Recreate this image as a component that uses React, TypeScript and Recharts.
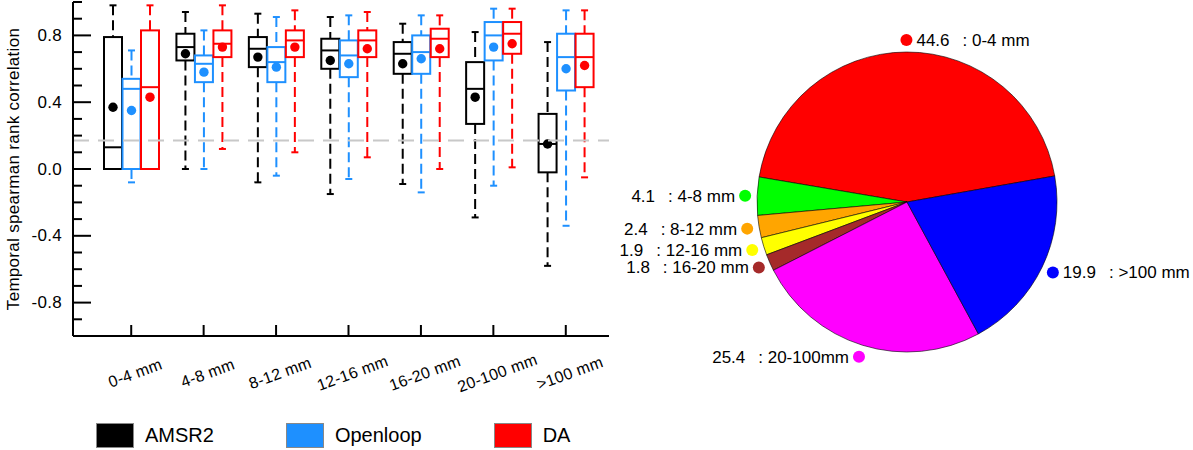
import { Bar, Cell, ComposedChart, Pie, PieChart, ReferenceLine, XAxis, YAxis } from 'recharts';

const FONT = '"Liberation Sans", Arial, Helvetica, sans-serif';
const RADIAN = Math.PI / 180;

// ---- box plot data (temporal spearman rank correlation per rain class) ----
const CATEGORIES = ['0-4 mm', '4-8 mm', '8-12 mm', '12-16 mm', '16-20 mm', '20-100 mm', '>100 mm'];

const AMSR2_MIN = [0.0, 0.0, -0.08, -0.15, -0.09, -0.29, -0.58];
const AMSR2_Q1 = [0.0, 0.65, 0.61, 0.6, 0.57, 0.27, -0.02];
const AMSR2_MEDIAN = [0.13, 0.73, 0.72, 0.71, 0.69, 0.48, 0.15];
const AMSR2_Q3 = [0.79, 0.81, 0.79, 0.78, 0.76, 0.64, 0.33];
const AMSR2_MAX = [0.98, 0.94, 0.93, 0.91, 0.87, 0.82, 0.76];
const AMSR2_MEAN = [0.37, 0.69, 0.67, 0.65, 0.63, 0.43, 0.15];

const OPENLOOP_MIN = [-0.08, 0.0, -0.04, -0.06, -0.14, -0.1, -0.34];
const OPENLOOP_Q1 = [0.0, 0.52, 0.52, 0.55, 0.57, 0.65, 0.47];
const OPENLOOP_MEDIAN = [0.48, 0.63, 0.64, 0.68, 0.7, 0.8, 0.67];
const OPENLOOP_Q3 = [0.54, 0.68, 0.73, 0.77, 0.8, 0.88, 0.81];
const OPENLOOP_MAX = [0.71, 0.83, 0.91, 0.92, 0.92, 0.96, 0.95];
const OPENLOOP_MEAN = [0.35, 0.58, 0.61, 0.63, 0.66, 0.73, 0.6];

const DA_MIN = [0.0, 0.12, 0.1, 0.07, 0.0, 0.01, -0.05];
const DA_Q1 = [0.0, 0.67, 0.67, 0.67, 0.67, 0.69, 0.49];
const DA_MEDIAN = [0.49, 0.75, 0.77, 0.77, 0.78, 0.81, 0.67];
const DA_Q3 = [0.83, 0.83, 0.83, 0.83, 0.84, 0.88, 0.81];
const DA_MAX = [0.98, 0.98, 0.95, 0.94, 0.92, 0.96, 0.95];
const DA_MEAN = [0.43, 0.73, 0.73, 0.72, 0.72, 0.75, 0.62];

const REFERENCE_R = 0.17;

const Y_TICKS = [-1, -0.9, -0.8, -0.7, -0.6, -0.5, -0.4, -0.3, -0.2, -0.1, 0, 0.1, 0.2, 0.3, 0.4, 0.5, 0.6, 0.7, 0.8, 0.9, 1];
const Y_LABELLED = [-0.8, -0.4, 0, 0.4, 0.8];

// ---- pie data (share of samples per rain class, %) ----
const PIE_NAMES = ['0-4 mm', '4-8 mm', '8-12 mm', '12-16 mm', '16-20 mm', '20-100mm', '>100 mm'];
const PIE_SHARES = [44.6, 4.1, 2.4, 1.9, 1.8, 25.4, 19.9];
const PIE_COLORS = ['#ff0000', '#00ff00', '#ffa500', '#ffff00', '#a52a2a', '#ff00ff', '#0000ff'];

const SERIES = [
  { key: 'amsr2', name: 'AMSR2', color: '#000000', min: AMSR2_MIN, q1: AMSR2_Q1, median: AMSR2_MEDIAN, q3: AMSR2_Q3, max: AMSR2_MAX, mean: AMSR2_MEAN },
  { key: 'openloop', name: 'Openloop', color: '#1e90ff', min: OPENLOOP_MIN, q1: OPENLOOP_Q1, median: OPENLOOP_MEDIAN, q3: OPENLOOP_Q3, max: OPENLOOP_MAX, mean: OPENLOOP_MEAN },
  { key: 'da', name: 'DA', color: '#ff0000', min: DA_MIN, q1: DA_Q1, median: DA_MEDIAN, q3: DA_Q3, max: DA_MAX, mean: DA_MEAN },
];

type Stats = { min: number; q1: number; median: number; q3: number; max: number; mean: number };

const ROWS = CATEGORIES.map((cat, i) => {
  const row: Record<string, any> = { cat };
  SERIES.forEach((s) => {
    row[s.key] = { min: s.min[i], q1: s.q1[i], median: s.median[i], q3: s.q3[i], max: s.max[i], mean: s.mean[i] };
    // range bar spans the whiskers; the shape fills in box, median and mean
    row[`${s.key}Range`] = [s.min[i], s.max[i]];
  });
  return row;
});

const PIE_DATA = PIE_NAMES.map((name, i) => ({ name, value: PIE_SHARES[i] }));

function BoxShape(props: any) {
  const { x, y, width, height, payload, seriesKey, color } = props;
  const st: Stats = payload[seriesKey];
  // the bar covers [min, max]; the y scale is linear, so map the rest along it
  const pix = (v: number) => y + (height * (st.max - v)) / (st.max - st.min);
  const cx = x + width / 2;
  const cap = 3.5;
  return (
    <g>
      <line x1={cx} x2={cx} y1={pix(st.max)} y2={pix(st.q3)} stroke={color} strokeWidth={2} strokeDasharray="10 5" />
      <line x1={cx} x2={cx} y1={pix(st.q1)} y2={pix(st.min)} stroke={color} strokeWidth={2} strokeDasharray="10 5" />
      <line x1={cx - cap} x2={cx + cap} y1={pix(st.max)} y2={pix(st.max)} stroke={color} strokeWidth={2} />
      <line x1={cx - cap} x2={cx + cap} y1={pix(st.min)} y2={pix(st.min)} stroke={color} strokeWidth={2} />
      <rect x={x} y={pix(st.q3)} width={width} height={pix(st.q1) - pix(st.q3)} fill="none" stroke={color} strokeWidth={2} />
      <line x1={x} x2={x + width} y1={pix(st.median)} y2={pix(st.median)} stroke={color} strokeWidth={2} />
      <circle cx={cx} cy={pix(st.mean)} r={4.7} fill={color} />
    </g>
  );
}

function YTick(props: any) {
  const { x, y, payload } = props;
  const v = payload.value as number;
  const labelled = Y_LABELLED.some((m) => Math.abs(m - v) < 1e-6);
  return (
    <g>
      <line x1={x} x2={x + (labelled ? 18 : 9)} y1={y} y2={y} stroke="#000" strokeWidth={2} />
      {labelled && (
        <text x={x - 11} y={y} textAnchor="end" dominantBaseline="central" fontSize={17} letterSpacing={0.3} fontFamily={FONT} fill="#000">
          {v.toFixed(1)}
        </text>
      )}
    </g>
  );
}

function XTick(props: any) {
  const { x, y, payload } = props;
  const lx = x + 4;
  const ly = y + 37;
  return (
    <g>
      <line x1={x} x2={x} y1={y} y2={y - 11} stroke="#000" strokeWidth={2} />
      <text x={lx} y={ly} textAnchor="middle" dominantBaseline="central" transform={`rotate(-20, ${lx}, ${ly})`} fontSize={16} letterSpacing={0.3} fontFamily={FONT} fill="#000">
        {payload.value}
      </text>
    </g>
  );
}

function PieLabel(props: any) {
  const { cx, cy, midAngle, outerRadius, index } = props;
  const a = -midAngle * RADIAN;
  const r = outerRadius + 12;
  const px = cx + r * Math.cos(a);
  const py = cy + r * Math.sin(a);
  const right = Math.cos(a) > -0.1;
  return (
    <g>
      <circle cx={px} cy={py} r={6} fill={PIE_COLORS[index]} />
      <text
        x={right ? px + 10 : px - 10}
        y={py}
        textAnchor={right ? 'start' : 'end'}
        dominantBaseline="central"
        fontSize={17}
        fontFamily={FONT}
        fill="#000"
      >
        <tspan>{PIE_SHARES[index].toFixed(1)}</tspan>
        <tspan dx={13}>{`: ${PIE_NAMES[index]}`}</tspan>
      </text>
    </g>
  );
}

function Legend() {
  return (
    <div style={{ position: 'absolute', left: 96, top: 423, display: 'flex', gap: 72, fontFamily: FONT, fontSize: 20 }}>
      {SERIES.map((s) => (
        <div key={s.key} style={{ display: 'flex', alignItems: 'center' }}>
          <div style={{ width: 36, height: 23, background: s.color, border: '1px solid #888', marginRight: 11 }} />
          <span>{s.name}</span>
        </div>
      ))}
    </div>
  );
}

export default function App() {
  return (
    <div style={{ position: 'absolute', left: 0, top: 0, width: 1193, height: 450, background: '#fff', fontFamily: FONT }}>
      <div style={{ position: 'absolute', left: 0, top: 0 }}>
        <ComposedChart width={640} height={450} data={ROWS} margin={{ top: 2, right: 31, bottom: 0, left: 0 }} barSize={18} barGap={0.5}>
          <XAxis
            dataKey="cat"
            type="category"
            height={114}
            padding={{ left: 22, right: 7 }}
            interval={0}
            tickLine={false}
            tickSize={0}
            tickMargin={0}
            axisLine={{ stroke: '#000', strokeWidth: 2 }}
            tick={(p: any) => <XTick {...p} />}
          />
          <YAxis
            type="number"
            domain={[-1, 1]}
            ticks={Y_TICKS}
            interval={0}
            width={73}
            tickLine={false}
            tickSize={0}
            tickMargin={0}
            axisLine={{ stroke: '#000', strokeWidth: 2 }}
            tick={(p: any) => <YTick {...p} />}
            label={{
              value: 'Temporal spearman rank correlation',
              angle: -90,
              position: 'insideLeft',
              offset: 13,
              fontSize: 17,
              fill: '#000',
              style: { textAnchor: 'middle', fontFamily: FONT, letterSpacing: 0.3 },
            }}
          />
          <ReferenceLine y={REFERENCE_R} stroke="#c8c8c8" strokeWidth={2} strokeDasharray="16 9" />
          {SERIES.map((s) => (
            <Bar
              key={s.key}
              dataKey={`${s.key}Range`}
              isAnimationActive={false}
              legendType="none"
              shape={(p: any) => <BoxShape {...p} seriesKey={s.key} color={s.color} />}
            />
          ))}
        </ComposedChart>
      </div>
      <Legend />
      <div style={{ position: 'absolute', left: 590, top: 0 }}>
        <PieChart width={603} height={450} margin={{ top: 0, right: 0, bottom: 0, left: 0 }}>
          <Pie
            data={PIE_DATA}
            dataKey="value"
            nameKey="name"
            cx={317}
            cy={202}
            outerRadius={150}
            startAngle={10}
            endAngle={370}
            stroke="#000"
            strokeWidth={0.6}
            label={(p: any) => <PieLabel {...p} />}
            labelLine={false}
            isAnimationActive={false}
          >
            {PIE_DATA.map((d, i) => (
              <Cell key={d.name} fill={PIE_COLORS[i]} />
            ))}
          </Pie>
        </PieChart>
      </div>
    </div>
  );
}
